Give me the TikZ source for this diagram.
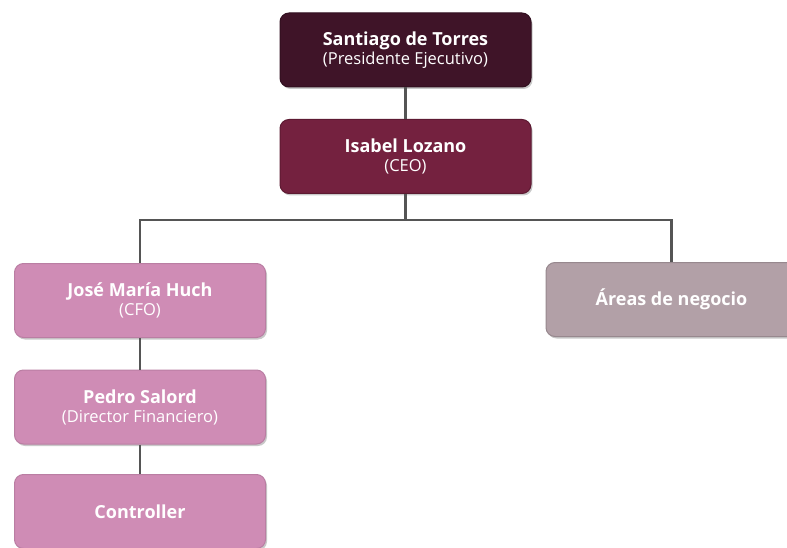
\documentclass[tikz,border=0pt]{standalone}
\usepackage{fontspec}
\setmainfont{Open Sans}
\usetikzlibrary{shadows}
\definecolor{cTop}{HTML}{3F1428}
\definecolor{cCeo}{HTML}{74213F}
\definecolor{cPink}{HTML}{CF8CB5}
\definecolor{cGrey}{HTML}{B2A0A7}
\definecolor{cLine}{HTML}{555555}
\newcommand{\nmtext}[1]{{\fontsize{18}{19}\selectfont\bfseries #1}}
\newcommand{\sbtext}[1]{{\fontsize{16.5}{19}\selectfont #1}}
\tikzset{
  box/.style={rounded corners=9pt, minimum width=251pt, minimum height=74pt,
    text=white, align=center, inner sep=0pt, line width=1pt,
    font=\fontsize{16.5}{19}\selectfont,
    drop shadow={shadow xshift=1.5pt, shadow yshift=-2pt, opacity=0.35, fill=black!60}},
  conn/.style={draw=cLine, line width=2.8pt}
}
\begin{document}
\begin{tikzpicture}[x=1pt,y=-1pt]
\useasboundingbox (0,0) rectangle (787,548);
\fill[white] (0,0) rectangle (787,548);
\node[box, fill=cTop, draw=cTop!80!black] (st) at (405.5,50) {\nmtext{Santiago de Torres}\\[0pt]\sbtext{(Presidente Ejecutivo)}};
\node[box, fill=cCeo, draw=cCeo!80!black] (il) at (405.5,156.5) {\nmtext{Isabel Lozano}\\[0pt]\sbtext{(CEO)}};
\node[box, fill=cPink, draw=cPink!90!black] (jm) at (140,300.5) {\nmtext{José María Huch}\\[0pt]\sbtext{(CFO)}};
\node[box, fill=cPink, draw=cPink!90!black] (ps) at (140,407) {\nmtext{Pedro Salord}\\[0pt]\sbtext{(Director Financiero)}};
\node[box, fill=cPink, draw=cPink!90!black] (ct) at (140,511.5) {\nmtext{Controller}};
\node[box, fill=cGrey, draw=cGrey!85!black] (an) at (671.5,299.5) {\nmtext{Áreas de negocio}};
\coordinate (br) at (405.5,220);
\draw[conn] (st.south) -- (il.north);
\draw[conn] (il.south) -- (br);
\draw[conn] (br) -| (jm.north);
\draw[conn] (br) -| (an.north);
\draw[conn] (jm.south) -- (ps.north);
\draw[conn] (ps.south) -- (ct.north);
\end{tikzpicture}
\end{document}
